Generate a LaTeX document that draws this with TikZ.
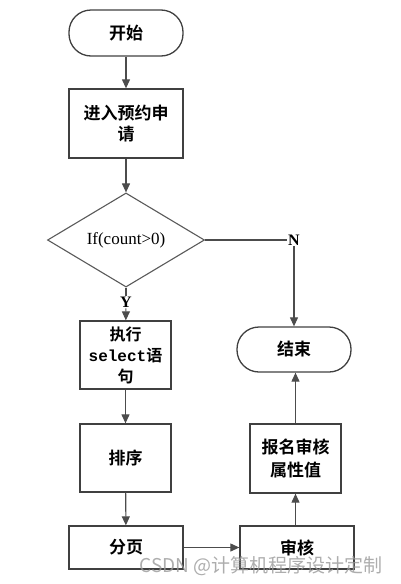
\documentclass[tikz,border=0pt]{standalone}
\usepackage{fontspec}
\setmainfont{Liberation Serif}
\newfontfamily\cjk{Noto Sans CJK SC}
\newfontfamily\cjkb{Noto Sans CJK SC}[BoldFont={Noto Sans CJK SC Bold}]
\newfontfamily\monob{Liberation Mono}
\usetikzlibrary{shapes.geometric,arrows.meta}
\begin{document}
\begin{tikzpicture}[x=1pt,y=-1pt,
  box/.style={draw=black!75, line width=1.3pt, inner sep=2pt, align=center, font=\cjkb\bfseries\fontsize{17}{21}\selectfont},
  term/.style={box, rounded corners=22pt},
  dec/.style={draw=black!65, line width=1.1pt, diamond, inner sep=0pt, minimum width=157pt, minimum height=94pt, font=\fontsize{17}{20}\selectfont},
  lbl/.style={font=\bfseries\fontsize{16}{18}\selectfont, inner sep=1pt, fill=white},
  conn/.style={draw=black!70, line width=1.1pt},
  arr/.style={conn, -{Triangle[length=9pt,width=8pt]}}
]
\useasboundingbox (0,0) rectangle (401,584);
\node[term, minimum width=114pt, minimum height=46pt] (start) at (126,33) {开始};
\node[box, minimum width=114pt, minimum height=69pt] (enter) at (126,123.5) {进入预约申\\请};
\node[dec] (cond) at (126,240) {If(count>0)};
\node[lbl] (N) at (294,240) {N};
\node[lbl] (Y) at (126,302) {Y};
\node[box, minimum width=91pt, minimum height=68pt, font=\cjkb\bfseries\fontsize{16}{21}\selectfont] (exec) at (125.5,355) {执行\\{\monob\bfseries select}语\\句};
\node[box, minimum width=91pt, minimum height=68pt] (sort) at (125.5,458) {排序};
\node[box, minimum width=114pt, minimum height=43pt] (page) at (126,547.5) {分页};
\node[box, minimum width=114pt, minimum height=43pt] (audit) at (297,547.5) {审核};
\node[box, minimum width=91pt, minimum height=69pt, font=\cjkb\bfseries\fontsize{17}{23}\selectfont] (attr) at (295.5,458.5) {报名审核\\属性值};
\node[term, minimum width=114pt, minimum height=45pt] (end) at (294,349.5) {结束};
\draw[arr] (start) -- (enter);
\draw[arr] (enter) -- (cond.north);
\draw[conn] (cond.east) -- (N);
\draw[arr] (N) -- (end.north);
\draw[conn] (cond.south) -- (Y);
\draw[arr] (Y) -- (exec);
\draw[arr] (exec) -- (sort);
\draw[arr] (sort) -- (page);
\draw[arr] (page) -- (audit);
\draw[arr] (audit.north -| attr) -- (attr.south);
\draw[arr] (attr) -- (attr |- end.south);
\node[text=black!40, opacity=0.8, font=\cjk\fontsize{19}{21}\selectfont, anchor=east] (wm) at (386,566) {CSDN @计算机程序设计定制};
\end{tikzpicture}
\end{document}
